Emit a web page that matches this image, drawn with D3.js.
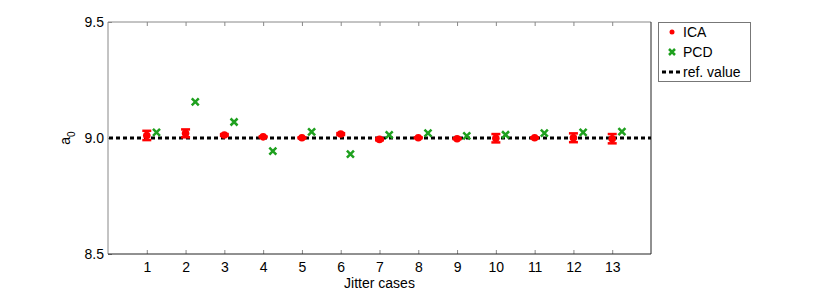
<!DOCTYPE html>
<html>
<head>
<meta charset="utf-8">
<script src="https://cdn.jsdelivr.net/npm/d3@7"></script>
<style>
  body { margin: 0; background: #fff; }
  text { font-family: "Liberation Sans", Arial, sans-serif; }
</style>
</head>
<body>
<div id="chart"></div>
<script>
// data
var cases = [1, 2, 3, 4, 5, 6, 7, 8, 9, 10, 11, 12, 13];
var icaMean = [9.011, 9.020, 9.013, 9.005, 9.001, 9.017, 8.994, 9.001, 8.997, 8.999, 9.001, 9.001, 8.997];
var icaErr  = [0.020, 0.017, 0.004, 0.002, 0.002, 0.004, 0.004, 0.002, 0.002, 0.018, 0.002, 0.019, 0.020];
var pcd     = [9.024, 9.156, 9.069, 8.943, 9.026, 8.930, 9.013, 9.021, 9.009, 9.014, 9.021, 9.024, 9.027];
var refValue = 9.0;
var yTicks = [8.5, 9.0, 9.5];
var legendNames = ["ICA", "PCD", "ref. value"];

var width = 830, height = 290;
var margin = {top: 22, right: 179, bottom: 36, left: 108};

var svg = d3.select("#chart").append("svg")
  .attr("width", width)
  .attr("height", height);

var x = d3.scaleLinear()
  .domain([0, 14])
  .range([margin.left, width - margin.right]);

var y = d3.scaleLinear()
  .domain([8.5, 9.5])
  .range([height - margin.bottom, margin.top]);

var red = "#ff0000", green = "#1ea01e";

// axes
var xAxis = g => g
  .attr("transform", `translate(0,${height - margin.bottom})`)
  .call(d3.axisBottom(x).tickValues(cases).tickSize(-4).tickPadding(8).tickFormat(d3.format("d")))
  .call(g => g.select(".domain").remove());

var xAxisTop = g => g
  .attr("transform", `translate(0,${margin.top})`)
  .call(d3.axisTop(x).tickValues(cases).tickSize(-4).tickFormat(""))
  .call(g => g.select(".domain").remove());

var yAxis = g => g
  .attr("transform", `translate(${margin.left},0)`)
  .call(d3.axisLeft(y).tickValues(yTicks).tickSize(-4).tickPadding(4).tickFormat(d3.format(".1f")))
  .call(g => g.select(".domain").remove());

svg.append("g").call(xAxis);
svg.append("g").call(xAxisTop);
svg.append("g").call(yAxis);

svg.selectAll(".tick line").attr("stroke", "#888");
svg.selectAll(".tick text")
  .attr("font-size", 14)
  .attr("font-family", "Liberation Sans, Arial, sans-serif")
  .attr("fill", "#000");

// box
svg.append("line").attr("x1", x(0)).attr("x2", x(14)).attr("y1", y(9.5)).attr("y2", y(9.5)).attr("stroke", "#888");
svg.append("line").attr("x1", x(0)).attr("x2", x(0)).attr("y1", y(9.5)).attr("y2", y(8.5)).attr("stroke", "#888");
svg.append("line").attr("x1", x(0)).attr("x2", x(14)).attr("y1", y(8.5)).attr("y2", y(8.5)).attr("stroke", "#222");
svg.append("line").attr("x1", x(14)).attr("x2", x(14)).attr("y1", y(9.5)).attr("y2", y(8.5)).attr("stroke", "#222");

// reference line
svg.append("line")
  .attr("x1", x(0) + 1).attr("x2", x(14))
  .attr("y1", y(refValue)).attr("y2", y(refValue))
  .attr("stroke", "#000")
  .attr("stroke-width", 3)
  .attr("stroke-dasharray", "4,3");

// ICA error bars
var ica = cases.map((c, i) => ({c: c, m: icaMean[i], e: icaErr[i]}));

var eb = svg.append("g").selectAll("g")
  .data(ica)
  .join("g")
  .attr("stroke", red)
  .attr("stroke-width", 2.5);

eb.append("line")
  .attr("x1", d => x(d.c)).attr("x2", d => x(d.c))
  .attr("y1", d => y(d.m - d.e)).attr("y2", d => y(d.m + d.e));
eb.append("line")
  .attr("x1", d => x(d.c) - 4.5).attr("x2", d => x(d.c) + 4.5)
  .attr("y1", d => y(d.m - d.e)).attr("y2", d => y(d.m - d.e));
eb.append("line")
  .attr("x1", d => x(d.c) - 4.5).attr("x2", d => x(d.c) + 4.5)
  .attr("y1", d => y(d.m + d.e)).attr("y2", d => y(d.m + d.e));

svg.append("g").selectAll("circle")
  .data(ica)
  .join("circle")
  .attr("cx", d => x(d.c))
  .attr("cy", d => y(d.m))
  .attr("r", 3.8)
  .attr("fill", red);

// PCD crosses
svg.append("g").selectAll("path")
  .data(cases.map((c, i) => ({c: c + 0.25, v: pcd[i]})))
  .join("path")
  .attr("d", d => {
    var cx = x(d.c), cy = y(d.v), s = 3.5;
    return `M${cx - s},${cy - s}L${cx + s},${cy + s}M${cx - s},${cy + s}L${cx + s},${cy - s}`;
  })
  .attr("stroke", green)
  .attr("stroke-width", 2.5)
  .attr("fill", "none");

// labels
svg.append("text")
  .attr("x", (x(0) + x(14)) / 2)
  .attr("y", 288)
  .attr("text-anchor", "middle")
  .attr("font-size", 14)
  .text("Jitter cases");

var yl = svg.append("text")
  .attr("transform", `translate(70,${y(9.0)}) rotate(-90)`)
  .attr("text-anchor", "middle")
  .attr("font-size", 14);
yl.append("tspan").text("a");
yl.append("tspan").attr("font-size", 10).attr("dy", 5).text("0");

// legend
var lx = 658, ly = 22;
svg.append("rect")
  .attr("x", lx + 0.5).attr("y", ly + 0.5)
  .attr("width", 92).attr("height", 59)
  .attr("fill", "#fff")
  .attr("stroke", "#777");

var legend = svg.selectAll(".legend")
  .data(legendNames)
  .enter().append("g")
  .attr("class", "legend")
  .attr("transform", (d, i) => `translate(${lx},${ly + 10 + i * 20})`);

legend.append("text")
  .attr("x", 25)
  .attr("y", 5)
  .attr("font-size", 14)
  .text(d => d);

legend.filter(d => d === "ICA").append("circle")
  .attr("cx", 14).attr("cy", 0).attr("r", 2.5).attr("fill", red);

legend.filter(d => d === "PCD").append("path")
  .attr("d", "M11,-3L17,3M11,3L17,-3")
  .attr("stroke", green).attr("stroke-width", 2.5);

legend.filter(d => d === "ref. value").append("line")
  .attr("x1", 4).attr("x2", 24).attr("y1", 0).attr("y2", 0)
  .attr("stroke", "#000").attr("stroke-width", 3).attr("stroke-dasharray", "4,3");
</script>
</body>
</html>
